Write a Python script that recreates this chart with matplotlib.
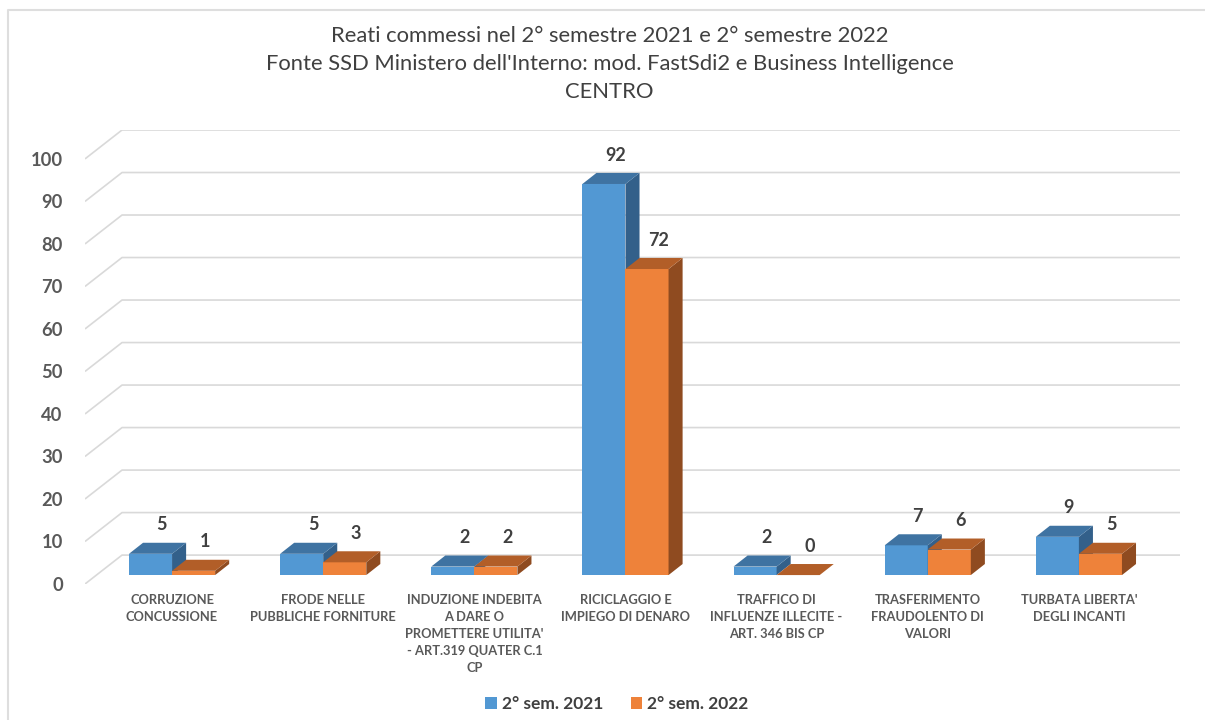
import matplotlib.pyplot as plt
from matplotlib.patches import Polygon, Patch
from matplotlib.lines import Line2D

plt.rcParams['font.family'] = ['Lato', 'DejaVu Sans']

# Data
categories = [
    "CORRUZIONE\nCONCUSSIONE",
    "FRODE NELLE\nPUBBLICHE FORNITURE",
    "INDUZIONE INDEBITA\nA DARE O\nPROMETTERE UTILITA'\n- ART.319 QUATER C.1\nCP",
    "RICICLAGGIO E\nIMPIEGO DI DENARO",
    "TRAFFICO DI\nINFLUENZE ILLECITE -\nART. 346 BIS CP",
    "TRASFERIMENTO\nFRAUDOLENTO DI\nVALORI",
    "TURBATA LIBERTA'\nDEGLI INCANTI",
]
sem_2021 = [5, 5, 2, 92, 2, 7, 9]
sem_2022 = [1, 3, 2, 72, 0, 6, 5]
series_names = ["2° sem. 2021", "2° sem. 2022"]
y_ticks = list(range(0, 101, 10))
title_lines = [
    "Reati commessi nel 2° semestre 2021 e 2° semestre 2022",
    "Fonte SSD Ministero dell'Interno: mod. FastSdi2 e Business Intelligence",
    "CENTRO",
]

# Fake 3D geometry (data units)
floor_dx, floor_dy = 0.245, 6.8     # full depth of the floor
front_dx, front_dy = -0.169, -4.7   # bar front face offset from back wall
bar_dx, bar_dy = 0.093, 2.6         # bar depth
bar_w = 0.285

colors = {
    "2021": ("#5298D3", "#3F73A2", "#33608A"),
    "2022": ("#EE823A", "#B25E28", "#8F4B20"),
}
grid_c = "#D9D9D9"
text_c = "#404040"
tick_c = "#595959"

W, H = 1205, 720
fig = plt.figure(figsize=(W / 100, H / 100), dpi=100)
ax = fig.add_axes([85 / W, (H - 584) / H, (1180 - 85) / W, (584 - 130) / H])
n = len(categories)
ax.set_xlim(-0.5 - floor_dx, n - 0.5)
ax.set_ylim(-floor_dy, 100)
for s in ax.spines.values():
    s.set_visible(False)
ax.set_xticks([])
ax.set_yticks([v - floor_dy for v in y_ticks])
ax.set_yticklabels([str(v) for v in y_ticks], fontsize=13.2, fontweight='bold', color=tick_c)
ax.tick_params(axis='y', length=0, pad=16)

# gridlines: diagonal on the side wall then along the back wall
for v in y_ticks:
    ax.plot([-0.5 - floor_dx, -0.5, n - 0.5], [v - floor_dy, v, v],
            color=grid_c, lw=1.2, zorder=0, solid_capstyle='butt')


def bar3d(x0, h, cols):
    y0 = front_dy
    front = Polygon([(x0, y0), (x0 + bar_w, y0), (x0 + bar_w, y0 + h), (x0, y0 + h)],
                    closed=True, facecolor=cols[0], edgecolor='none', zorder=2)
    top = Polygon([(x0, y0 + h), (x0 + bar_w, y0 + h),
                   (x0 + bar_w + bar_dx, y0 + h + bar_dy), (x0 + bar_dx, y0 + h + bar_dy)],
                  closed=True, facecolor=cols[1], edgecolor='none', zorder=2)
    side = Polygon([(x0 + bar_w, y0), (x0 + bar_w + bar_dx, y0 + bar_dy),
                    (x0 + bar_w + bar_dx, y0 + h + bar_dy), (x0 + bar_w, y0 + h)],
                   closed=True, facecolor=cols[2], edgecolor='none', zorder=2)
    for p in (front, side, top):
        ax.add_patch(p)
    ax.text(x0 + bar_w / 2 + 0.075, y0 + h + bar_dy + 2.2, str(h),
            ha='center', va='bottom', fontsize=13, fontweight='bold', color=text_c)


for i in range(n):
    c = i + front_dx
    bar3d(c - bar_w, sem_2021[i], colors["2021"])
    bar3d(c, sem_2022[i], colors["2022"])
    ax.text(c, -floor_dy - 2.4, categories[i], ha='center', va='top',
            fontsize=9.3, fontweight='bold', color=tick_c, linespacing=1.5,
            clip_on=False)

# title
for k, line in enumerate(title_lines):
    fig.text(0.506, 1 - (36 + 28 * k) / H, line, ha='center', va='center',
             fontsize=15.8, color=text_c)

# legend
handles = [Patch(facecolor=colors["2021"][0]), Patch(facecolor=colors["2022"][0])]
fig.legend(handles, series_names, loc='center', bbox_to_anchor=(0.512, 1 - 704 / H),
           ncol=2, frameon=False, handlelength=0.65, handleheight=0.65,
           handletextpad=0.3, columnspacing=1.6, prop={'weight': 'bold', 'size': 12.5})
for t in fig.legends[0].get_texts():
    t.set_color(text_c)

# chart border (left and top)
fig.add_artist(Line2D([8 / W, 8 / W, 1], [0, 1 - 10 / H, 1 - 10 / H],
                      transform=fig.transFigure, color="#DEDEDE", lw=1.5))

fig.savefig("out.png", dpi=100, facecolor='white')
